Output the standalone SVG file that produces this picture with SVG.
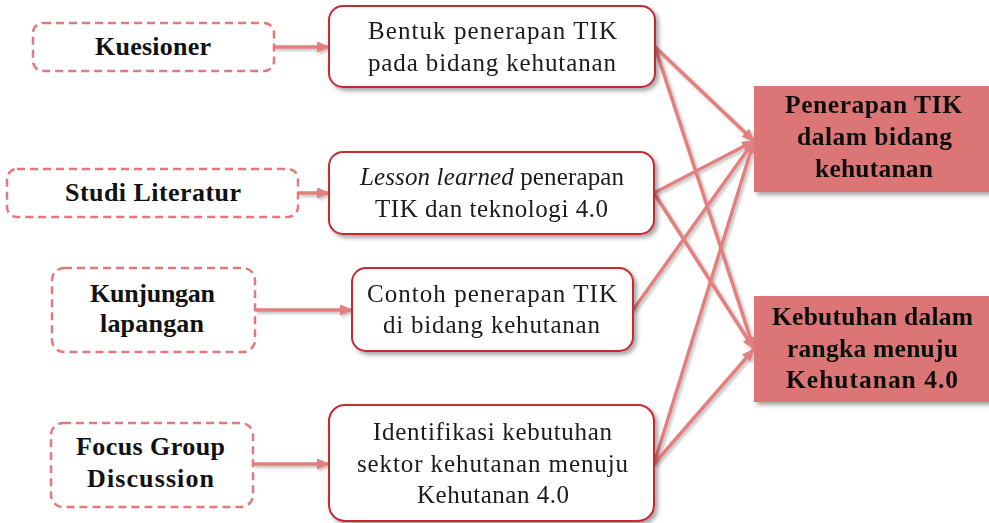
<svg xmlns="http://www.w3.org/2000/svg" width="989" height="523" viewBox="0 0 989 523">
  <style>
    .src{fill:#ffffff;stroke:#e07b7b;stroke-width:2.5;stroke-dasharray:8 5}
    .mid{fill:#ffffff;stroke:#c42a33;stroke-width:2}
    .out{fill:#dc7575}
    .b{font-family:"Liberation Serif","Times New Roman",serif;font-weight:bold;font-size:26px;fill:#111}
    .o{font-family:"Liberation Serif","Times New Roman",serif;font-weight:bold;font-size:25.5px;fill:#111}
    .r{font-family:"Liberation Serif","Times New Roman",serif;font-size:25px;fill:#1a1a1a}
    .c{stroke:#e27f7f;stroke-width:3.5;fill:none;marker-end:url(#ah)}
  </style>
  <defs>
    <marker id="ah" markerUnits="userSpaceOnUse" markerWidth="13" markerHeight="11" refX="12" refY="5.5" orient="auto">
      <path d="M0,0 L13,5.5 L0,11 Z" fill="#e27f7f"/>
    </marker>
    <filter id="sh" x="-10%" y="-10%" width="125%" height="130%">
      <feDropShadow dx="3" dy="3" stdDeviation="2" flood-color="#000" flood-opacity="0.35"/>
    </filter>
    <filter id="lsh" x="-10%" y="-10%" width="125%" height="130%">
      <feDropShadow dx="2" dy="2" stdDeviation="1.5" flood-color="#000" flood-opacity="0.25"/>
    </filter>
  </defs>
  <rect width="989" height="523" fill="#ffffff"/>

  <g id="connectors" filter="url(#lsh)">
    <line class="c" x1="274" y1="47" x2="329" y2="47"/>
    <line class="c" x1="298" y1="193" x2="329" y2="193"/>
    <line class="c" x1="255" y1="310" x2="352" y2="310"/>
    <line class="c" x1="253" y1="464" x2="329" y2="464"/>
    <line class="c" x1="655" y1="47" x2="754" y2="141"/>
    <line class="c" x1="655" y1="47" x2="754" y2="349"/>
    <line class="c" x1="654" y1="193" x2="754" y2="141"/>
    <line class="c" x1="654" y1="193" x2="754" y2="349"/>
    <line class="c" x1="633" y1="310" x2="754" y2="141"/>
    <line class="c" x1="654" y1="464" x2="754" y2="141"/>
    <line class="c" x1="654" y1="464" x2="754" y2="349"/>
  </g>

  <g id="kuesioner">
    <rect class="src" x="33" y="23" width="241" height="48" rx="10"/>
    <text class="b" x="95" y="55" textLength="116">Kuesioner</text>
  </g>
  <g id="studi-literatur">
    <rect class="src" x="7" y="169" width="291" height="48" rx="10"/>
    <text class="b" x="65" y="201" textLength="176">Studi Literatur</text>
  </g>
  <g id="kunjungan-lapangan">
    <rect class="src" x="52" y="268" width="203" height="84" rx="12"/>
    <text class="b" x="90" y="302" textLength="125">Kunjungan</text>
    <text class="b" x="100" y="332" textLength="104">lapangan</text>
  </g>
  <g id="focus-group">
    <rect class="src" x="51" y="423" width="202" height="84" rx="12"/>
    <text class="b" x="76" y="455" textLength="149">Focus Group</text>
    <text class="b" x="87" y="487" textLength="127">Discussion</text>
  </g>

  <g id="bentuk" filter="url(#sh)">
    <rect class="mid" x="329" y="6" width="326" height="81" rx="14"/>
    <text class="r" x="368" y="39" textLength="249">Bentuk penerapan TIK</text>
    <text class="r" x="368" y="71" textLength="248">pada bidang kehutanan</text>
  </g>
  <g id="lesson" filter="url(#sh)">
    <rect class="mid" x="329" y="152" width="325" height="82" rx="14"/>
    <text class="r" x="360" y="185" textLength="264"><tspan font-style="italic">Lesson learned</tspan> penerapan</text>
    <text class="r" x="375" y="217" textLength="233">TIK dan teknologi 4.0</text>
  </g>
  <g id="contoh" filter="url(#sh)">
    <rect class="mid" x="352" y="268" width="281" height="83" rx="14"/>
    <text class="r" x="367" y="302" textLength="250">Contoh penerapan TIK</text>
    <text class="r" x="383" y="333" textLength="217">di bidang kehutanan</text>
  </g>
  <g id="identifikasi" filter="url(#sh)">
    <rect class="mid" x="329" y="405" width="325" height="116" rx="16"/>
    <text class="r" x="373" y="440" textLength="239">Identifikasi kebutuhan</text>
    <text class="r" x="357" y="472" textLength="271">sektor kehutanan menuju</text>
    <text class="r" x="417" y="503" textLength="152">Kehutanan 4.0</text>
  </g>

  <g id="penerapan-tik" filter="url(#sh)">
    <rect class="out" x="754" y="86" width="240" height="106"/>
    <text class="o" x="785" y="113" textLength="177">Penerapan TIK</text>
    <text class="o" x="797" y="145" textLength="155">dalam bidang</text>
    <text class="o" x="815" y="177" textLength="118">kehutanan</text>
  </g>
  <g id="kebutuhan" filter="url(#sh)">
    <rect class="out" x="754" y="296" width="240" height="106"/>
    <text class="o" x="772" y="325" textLength="201">Kebutuhan dalam</text>
    <text class="o" x="787" y="357" textLength="171">rangka menuju</text>
    <text class="o" x="786" y="388" textLength="172">Kehutanan 4.0</text>
  </g>
</svg>
